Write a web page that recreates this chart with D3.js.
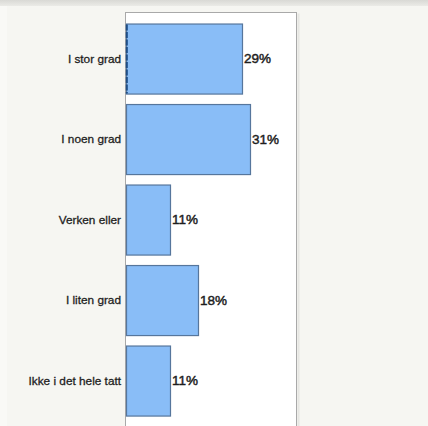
<!DOCTYPE html>
<html>
<head>
<meta charset="utf-8">
<script src="https://cdn.jsdelivr.net/npm/d3@7"></script>
<style>
  html, body { margin: 0; padding: 0; background: #f6f6f2; }
  svg { display: block; }
</style>
</head>
<body>
<svg id="chart" width="428" height="426"></svg>
<script>
// Survey answers and their share of respondents (%)
const categories = ["I stor grad", "I noen grad", "Verken eller", "I liten grad", "Ikke i det hele tatt"];
const percentages = [29, 31, 11, 18, 11];
const valueLabels = ["29%", "31%", "11%", "18%", "11%"];

const svg = d3.select("#chart");
const W = 428, H = 426;

// page chrome: grey strip at the top
const grad = svg.append("defs").append("linearGradient")
  .attr("id", "topband").attr("x1", 0).attr("y1", 0).attr("x2", 0).attr("y2", 1);
grad.append("stop").attr("offset", "0%").attr("stop-color", "#d9d9d5");
grad.append("stop").attr("offset", "100%").attr("stop-color", "#ebebe7");
svg.append("rect").attr("x", 0).attr("y", 0).attr("width", W).attr("height", 6).attr("fill", "url(#topband)");
svg.append("rect").attr("x", 0).attr("y", 6).attr("width", 7).attr("height", H - 6).attr("fill", "#f9f9f6");

// plot frame
const plot = { left: 125.5, top: 12.5, right: 296.5 };
svg.append("rect")
  .attr("x", plot.right + 1).attr("y", plot.top + 1)
  .attr("width", 2).attr("height", H)
  .attr("fill", "#e6e6e2");
svg.append("rect")
  .attr("x", plot.left).attr("y", plot.top)
  .attr("width", plot.right - plot.left).attr("height", H)
  .attr("fill", "#ffffff").attr("stroke", "#a9a9a9").attr("stroke-width", 1);

// scales
const x = d3.scaleLinear().domain([0, 42.75]).range([126, 297]);
const y = d3.scaleBand()
  .domain(categories)
  .range([18.3, 18.3 + 5 * 80.5])
  .paddingInner(0.13)
  .paddingOuter(0.065);

// bars
svg.append("g").selectAll("rect")
  .data(categories)
  .join("rect")
  .attr("x", x(0) + 0.5)
  .attr("y", d => y(d) + 0.5)
  .attr("width", (d, i) => x(percentages[i]) - x(0))
  .attr("height", y.bandwidth())
  .attr("fill", "#89bdf7")
  .attr("stroke", "#56769c")
  .attr("stroke-width", 1.2);

// highlighted left edge on the first bar
svg.append("line")
  .attr("x1", x(0) + 0.8).attr("x2", x(0) + 0.8)
  .attr("y1", y(categories[0]) + 1).attr("y2", y(categories[0]) + y.bandwidth())
  .attr("stroke", "#1f4e86").attr("stroke-width", 2).attr("stroke-dasharray", "6,1.5");

// category labels
svg.append("g").selectAll("text")
  .data(categories)
  .join("text")
  .attr("x", 121)
  .attr("y", d => y(d) + y.bandwidth() / 2)
  .attr("dy", "0.35em")
  .attr("text-anchor", "end")
  .attr("font-family", "Liberation Sans, Arial, sans-serif")
  .attr("font-size", "11.8px")
  .attr("fill", "#1e1e1e")
  .attr("stroke", "#1e1e1e")
  .attr("stroke-width", 0.3)
  .text(d => d);

// value labels
svg.append("g").selectAll("text")
  .data(categories)
  .join("text")
  .attr("x", (d, i) => x(percentages[i]) + 2)
  .attr("y", d => y(d) + y.bandwidth() / 2)
  .attr("dy", "0.35em")
  .attr("font-family", "Liberation Sans, Arial, sans-serif")
  .attr("font-size", "13.5px")
  .attr("fill", "#1e1e1e")
  .attr("stroke", "#1e1e1e")
  .attr("stroke-width", 0.45)
  .text((d, i) => valueLabels[i]);
</script>
</body>
</html>
